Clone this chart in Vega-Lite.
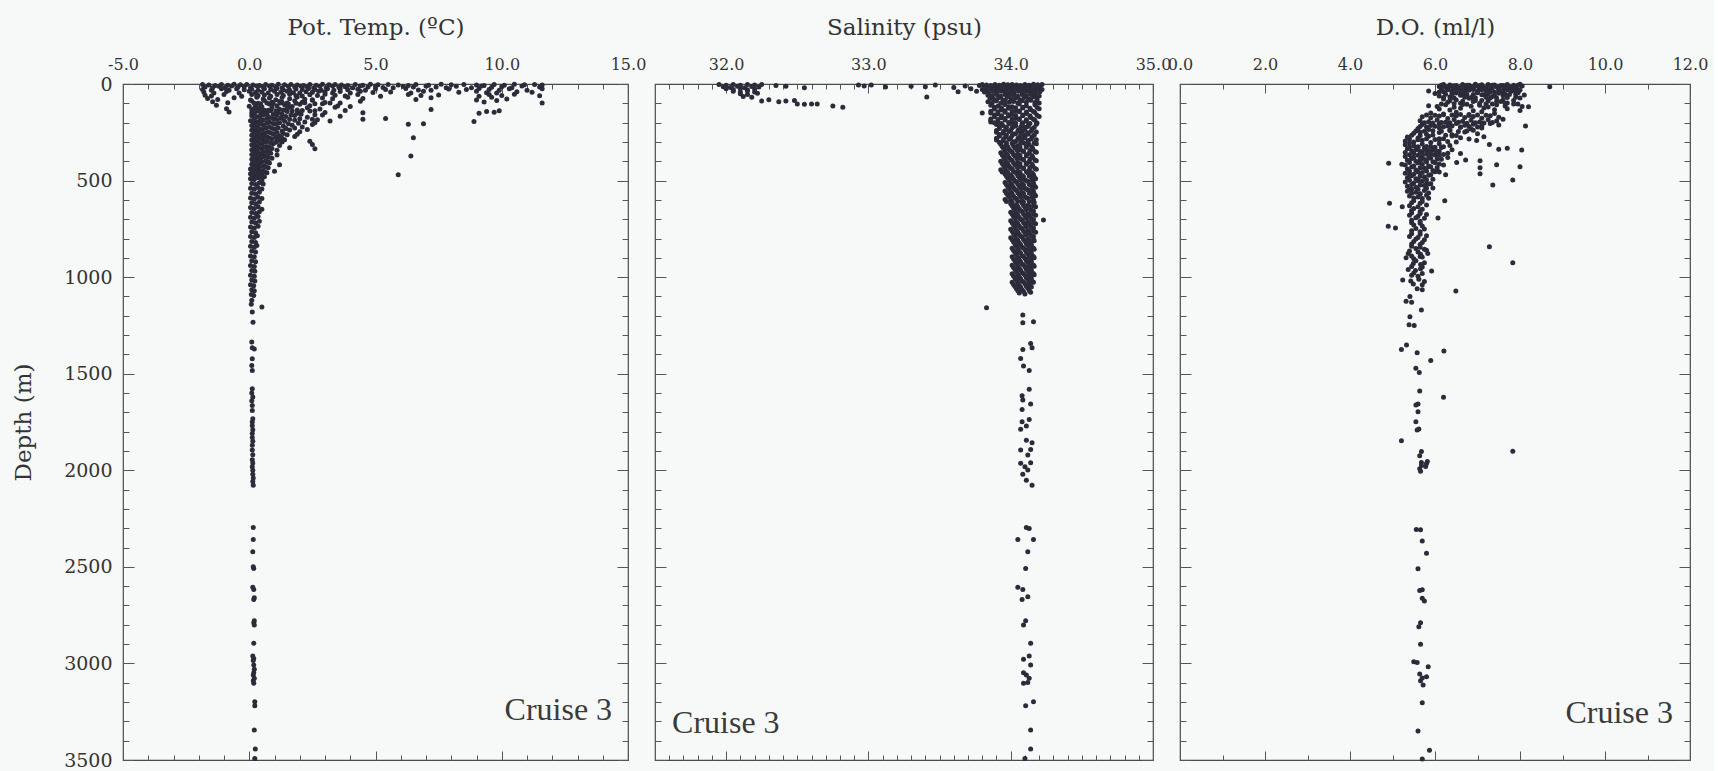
{
"$schema": "https://vega.github.io/schema/vega-lite/v6.json",
"background": "#f7f9f9",
"padding": {"left": 12, "top": 15, "right": 5, "bottom": 5},
"bounds": "flush",
"spacing": 27,
"resolve": {"scale": {"x": "independent", "y": "independent"}},
"config": {
  "view": {"stroke": "#4a4a4a", "strokeWidth": 1.2},
  "axis": {"domain": false, "grid": false, "tickColor": "#555", "tickWidth": 1, "labelFont": "DejaVu Serif", "titleFont": "DejaVu Serif", "labelColor": "#333", "titleColor": "#333", "titleFontWeight": "normal", "labelOverlap": false}
},
"datasets": {
"lab1": [{"v": 14.37, "z": 3293, "t": "Cruise 3"}],
"lab2": [{"v": 31.62, "z": 3361, "t": "Cruise 3"}],
"lab3": [{"v": 11.6, "z": 3309, "t": "Cruise 3"}],
"temp": [
{"z":2,"v":-1.85},{"z":5,"v":-1.6},{"z":8,"v":-1.35},{"z":3,"v":-1.1},{"z":6,"v":-0.85},{"z":1,"v":-0.6},{"z":4,"v":-0.35},{"z":2,"v":-0.1},{"z":5,"v":0.15},{"z":8,"v":0.4},{"z":3,"v":0.65},{"z":6,"v":0.9},{"z":1,"v":1.15},{"z":4,"v":1.4},{"z":2,"v":1.65},{"z":5,"v":1.9},{"z":8,"v":2.15},{"z":3,"v":2.4},{"z":6,"v":2.65},{"z":1,"v":2.9},{"z":4,"v":3.15},{"z":2,"v":3.4},{"z":5,"v":3.65},{"z":8,"v":3.9},{"z":3,"v":4.2},{"z":6,"v":4.5},{"z":1,"v":4.8},{"z":4,"v":5.1},{"z":2,"v":5.5},{"z":5,"v":5.9},{"z":8,"v":6.3},{"z":3,"v":6.6},{"z":6,"v":7.1},{"z":1,"v":7.6},{"z":4,"v":8.0},{"z":2,"v":8.5},{"z":5,"v":9.0},{"z":8,"v":9.3},{"z":3,"v":9.7},{"z":6,"v":10.1},{"z":1,"v":10.5},{"z":4,"v":10.9},{"z":2,"v":11.3},{"z":5,"v":11.6},
{"z":15,"v":-1.75},{"z":19,"v":-1.45},{"z":12,"v":-1.2},{"z":20,"v":-0.95},{"z":11,"v":-0.7},{"z":17,"v":-0.45},{"z":14,"v":-0.2},{"z":20,"v":0.05},{"z":11,"v":0.3},{"z":16,"v":0.55},{"z":10,"v":0.8},{"z":18,"v":1.05},{"z":19,"v":1.3},{"z":13,"v":1.55},{"z":16,"v":1.8},{"z":10,"v":2.05},{"z":15,"v":2.3},{"z":19,"v":2.55},{"z":12,"v":2.8},{"z":20,"v":3.05},{"z":11,"v":3.3},{"z":17,"v":3.55},{"z":14,"v":3.8},{"z":20,"v":4.1},{"z":11,"v":4.4},{"z":16,"v":4.7},{"z":10,"v":5.0},{"z":18,"v":5.3},{"z":19,"v":5.7},{"z":13,"v":6.1},{"z":16,"v":6.5},{"z":10,"v":7.0},{"z":15,"v":7.4},{"z":19,"v":7.8},{"z":12,"v":8.2},{"z":20,"v":8.8},{"z":11,"v":9.2},{"z":17,"v":9.6},{"z":14,"v":10.0},{"z":20,"v":10.4},{"z":11,"v":10.8},{"z":16,"v":11.5},
{"z":28,"v":-1.85},{"z":32,"v":-1.5},{"z":25,"v":-1.1},{"z":33,"v":-0.8},{"z":24,"v":-0.5},{"z":30,"v":-0.2},{"z":27,"v":0.1},{"z":33,"v":0.35},{"z":24,"v":0.6},{"z":29,"v":0.85},{"z":23,"v":1.1},{"z":31,"v":1.35},{"z":32,"v":1.6},{"z":26,"v":1.85},{"z":29,"v":2.1},{"z":23,"v":2.35},{"z":28,"v":2.6},{"z":32,"v":2.85},{"z":25,"v":3.1},{"z":33,"v":3.35},{"z":24,"v":3.6},{"z":30,"v":3.9},{"z":27,"v":4.3},{"z":33,"v":4.6},{"z":24,"v":5.0},{"z":29,"v":5.4},{"z":23,"v":6.2},{"z":31,"v":6.7},{"z":32,"v":7.2},{"z":26,"v":7.9},{"z":29,"v":8.6},{"z":23,"v":9.1},{"z":28,"v":9.5},{"z":32,"v":9.9},{"z":25,"v":10.3},{"z":33,"v":11.0},{"z":24,"v":11.6},
{"z":42,"v":-1.8},{"z":46,"v":-1.4},{"z":39,"v":-0.9},{"z":47,"v":-0.4},{"z":38,"v":0},{"z":44,"v":0.25},{"z":41,"v":0.5},{"z":47,"v":0.75},{"z":38,"v":1.0},{"z":43,"v":1.25},{"z":37,"v":1.5},{"z":45,"v":1.75},{"z":46,"v":2.0},{"z":40,"v":2.25},{"z":43,"v":2.5},{"z":37,"v":2.75},{"z":42,"v":3.0},{"z":46,"v":3.3},{"z":39,"v":3.6},{"z":47,"v":4.0},{"z":38,"v":4.4},{"z":44,"v":4.9},{"z":41,"v":5.6},{"z":47,"v":6.4},{"z":38,"v":6.9},{"z":43,"v":8.3},{"z":37,"v":9.0},{"z":45,"v":9.4},{"z":46,"v":9.8},{"z":40,"v":10.6},{"z":43,"v":11.2},
{"z":58,"v":-1.75},{"z":62,"v":-1.5},{"z":55,"v":-1.0},{"z":63,"v":-0.3},{"z":54,"v":0.1},{"z":60,"v":0.35},{"z":57,"v":0.6},{"z":63,"v":0.85},{"z":54,"v":1.1},{"z":59,"v":1.35},{"z":53,"v":1.6},{"z":61,"v":1.85},{"z":62,"v":2.1},{"z":56,"v":2.4},{"z":59,"v":2.7},{"z":53,"v":3.0},{"z":58,"v":3.4},{"z":62,"v":3.8},{"z":55,"v":4.3},{"z":63,"v":5.2},{"z":54,"v":6.3},{"z":60,"v":6.8},{"z":57,"v":7.5},{"z":63,"v":9.1},{"z":54,"v":9.5},{"z":59,"v":10.0},{"z":53,"v":10.5},{"z":61,"v":11.5},
{"z":75,"v":-1.65},{"z":80,"v":-1.25},{"z":71,"v":-0.6},{"z":83,"v":0.05},{"z":69,"v":0.3},{"z":78,"v":0.55},{"z":73,"v":0.8},{"z":82,"v":1.05},{"z":70,"v":1.3},{"z":77,"v":1.6},{"z":67,"v":1.9},{"z":79,"v":2.2},{"z":81,"v":2.5},{"z":72,"v":2.9},{"z":76,"v":3.3},{"z":68,"v":3.9},{"z":75,"v":4.5},{"z":80,"v":6.6},{"z":71,"v":7.2},{"z":83,"v":9.0},{"z":69,"v":9.6},{"z":78,"v":10.2},
{"z":92,"v":-1.45},{"z":97,"v":-0.85},{"z":88,"v":0.1},{"z":100,"v":0.35},{"z":86,"v":0.6},{"z":95,"v":0.9},{"z":90,"v":1.2},{"z":99,"v":1.5},{"z":87,"v":1.8},{"z":94,"v":2.1},{"z":84,"v":2.5},{"z":96,"v":3.0},{"z":98,"v":3.6},{"z":89,"v":4.4},{"z":93,"v":9.3},{"z":85,"v":9.8},{"z":98,"v":11.6},
{"z":110,"v":-1.3},{"z":115,"v":0.0},{"z":106,"v":0.25},{"z":118,"v":0.5},{"z":104,"v":0.8},{"z":113,"v":1.1},{"z":108,"v":1.4},{"z":117,"v":1.7},{"z":105,"v":2.0},{"z":112,"v":2.4},{"z":102,"v":2.9},{"z":114,"v":3.5},{"z":116,"v":4.0},
{"z":128,"v":-0.9},{"z":133,"v":0.1},{"z":124,"v":0.35},{"z":136,"v":0.6},{"z":122,"v":0.9},{"z":131,"v":1.2},{"z":126,"v":1.5},{"z":135,"v":1.9},{"z":123,"v":2.3},{"z":130,"v":2.8},{"z":120,"v":3.4},{"z":132,"v":7.2},
{"z":145,"v":-0.8},{"z":150,"v":0.1},{"z":141,"v":0.3},{"z":153,"v":0.55},{"z":139,"v":0.85},{"z":148,"v":1.15},{"z":143,"v":1.5},{"z":152,"v":1.9},{"z":140,"v":2.4},{"z":147,"v":3.0},{"z":137,"v":3.8},{"z":149,"v":4.5},{"z":151,"v":9.1},{"z":142,"v":9.4},{"z":146,"v":9.7},{"z":138,"v":9.9},
{"z":165,"v":0.1},{"z":170,"v":0.3},{"z":161,"v":0.55},{"z":173,"v":0.8},{"z":159,"v":1.1},{"z":168,"v":1.45},{"z":163,"v":1.8},{"z":172,"v":2.3},{"z":160,"v":2.9},{"z":167,"v":3.6},{"z":178,"v":5.4},
{"z":190,"v":0.05},{"z":195,"v":0.3},{"z":186,"v":0.55},{"z":198,"v":0.8},{"z":184,"v":1.1},{"z":193,"v":1.4},{"z":188,"v":1.8},{"z":197,"v":2.2},{"z":185,"v":2.7},{"z":192,"v":3.2},{"z":182,"v":4.5},{"z":194,"v":8.9},{"z":208,"v":6.3},{"z":206,"v":6.9},
{"z":215,"v":0.1},{"z":220,"v":0.3},{"z":211,"v":0.55},{"z":223,"v":0.8},{"z":209,"v":1.05},{"z":218,"v":1.35},{"z":213,"v":1.7},{"z":222,"v":2.1},{"z":210,"v":2.5},
{"z":240,"v":0.1},{"z":245,"v":0.3},{"z":236,"v":0.5},{"z":248,"v":0.75},{"z":234,"v":1.0},{"z":243,"v":1.3},{"z":238,"v":1.6},{"z":247,"v":2.0},{"z":235,"v":2.3},
{"z":265,"v":0.1},{"z":270,"v":0.3},{"z":261,"v":0.5},{"z":273,"v":0.7},{"z":259,"v":0.95},{"z":268,"v":1.2},{"z":263,"v":1.5},{"z":272,"v":1.8},{"z":278,"v":6.5},
{"z":290,"v":0.1},{"z":295,"v":0.3},{"z":286,"v":0.5},{"z":298,"v":0.7},{"z":284,"v":0.9},{"z":293,"v":1.15},{"z":288,"v":1.4},{"z":297,"v":2.4},
{"z":315,"v":0.1},{"z":320,"v":0.3},{"z":311,"v":0.5},{"z":323,"v":0.7},{"z":309,"v":0.95},{"z":318,"v":1.2},{"z":313,"v":2.5},{"z":335,"v":2.6},
{"z":340,"v":0.1},{"z":345,"v":0.3},{"z":336,"v":0.5},{"z":348,"v":0.7},{"z":334,"v":0.9},{"z":343,"v":1.1},
{"z":365,"v":0.1},{"z":370,"v":0.25},{"z":361,"v":0.45},{"z":373,"v":0.65},{"z":359,"v":0.85},{"z":368,"v":1.1},{"z":373,"v":6.4},
{"z":390,"v":0.1},{"z":395,"v":0.25},{"z":386,"v":0.45},{"z":398,"v":0.65},{"z":384,"v":0.9},
{"z":415,"v":0.1},{"z":420,"v":0.25},{"z":411,"v":0.4},{"z":423,"v":0.6},{"z":409,"v":0.8},{"z":418,"v":1.2},
{"z":440,"v":0.05},{"z":445,"v":0.2},{"z":436,"v":0.35},{"z":448,"v":0.55},{"z":434,"v":0.75},
{"z":465,"v":0.05},{"z":470,"v":0.2},{"z":461,"v":0.35},{"z":473,"v":0.5},{"z":459,"v":0.7},{"z":470,"v":5.9},
{"z":490,"v":0.05},{"z":495,"v":0.2},{"z":486,"v":0.35},{"z":498,"v":0.5},
{"z":125,"v":0.2},{"z":140,"v":0.45},{"z":155,"v":0.7},{"z":180,"v":0.95},{"z":205,"v":0.4},{"z":228,"v":0.65},{"z":252,"v":0.2},{"z":280,"v":0.45},{"z":305,"v":0.85},{"z":330,"v":0.2},{"z":355,"v":0.55},{"z":380,"v":0.35},{"z":402,"v":0.75},{"z":428,"v":0.3},{"z":455,"v":0.45},{"z":480,"v":0.6},{"z":452,"v":1.0},{"z":330,"v":1.6},{"z":260,"v":1.9},{"z":200,"v":2.6},{"z":150,"v":2.0},{"z":95,"v":1.3},{"z":60,"v":0.3},{"z":230,"v":1.45},{"z":280,"v":1.1},{"z":175,"v":1.25},{"z":120,"v":1.6},{"z":300,"v":1.3},{"z":355,"v":0.8},{"z":255,"v":0.6},
{"z":100,"v":0.2},{"z":102,"v":0.45},{"z":99,"v":0.7},{"z":101,"v":0.95},{"z":98,"v":1.25},{"z":103,"v":1.55},{"z":100,"v":1.85},{"z":97,"v":2.2},{"z":102,"v":2.6},{"z":99,"v":3.2},
{"z":137,"v":0.2},{"z":139,"v":0.45},{"z":136,"v":0.75},{"z":138,"v":1.05},{"z":135,"v":1.35},{"z":140,"v":1.7},{"z":137,"v":2.1},{"z":139,"v":2.6},
{"z":157,"v":0.2},{"z":159,"v":0.45},{"z":156,"v":0.7},{"z":158,"v":0.95},{"z":155,"v":1.3},{"z":160,"v":1.65},{"z":157,"v":2.05},{"z":159,"v":2.6},
{"z":180,"v":0.2},{"z":182,"v":0.45},{"z":179,"v":0.7},{"z":181,"v":1.0},{"z":178,"v":1.3},{"z":183,"v":1.6},{"z":180,"v":2.0},{"z":182,"v":2.5},
{"z":203,"v":0.2},{"z":205,"v":0.45},{"z":202,"v":0.7},{"z":204,"v":0.95},{"z":201,"v":1.2},{"z":206,"v":1.55},{"z":203,"v":1.95},
{"z":228,"v":0.2},{"z":230,"v":0.4},{"z":227,"v":0.65},{"z":229,"v":0.9},{"z":226,"v":1.15},{"z":231,"v":1.45},{"z":228,"v":1.8},
{"z":253,"v":0.2},{"z":255,"v":0.4},{"z":252,"v":0.6},{"z":254,"v":0.85},{"z":251,"v":1.1},{"z":256,"v":1.35},
{"z":278,"v":0.2},{"z":280,"v":0.4},{"z":277,"v":0.6},{"z":279,"v":0.8},{"z":276,"v":1.05},{"z":281,"v":1.3},
{"z":303,"v":0.2},{"z":305,"v":0.4},{"z":302,"v":0.6},{"z":304,"v":0.85},{"z":301,"v":1.05},
{"z":328,"v":0.2},{"z":330,"v":0.4},{"z":327,"v":0.6},{"z":329,"v":0.8},
{"z":353,"v":0.2},{"z":355,"v":0.35},{"z":352,"v":0.55},{"z":354,"v":0.75},
{"z":378,"v":0.2},{"z":380,"v":0.35},{"z":377,"v":0.55},{"z":379,"v":0.75},
{"z":403,"v":0.15},{"z":405,"v":0.35},{"z":402,"v":0.5},{"z":404,"v":0.7},
{"z":428,"v":0.15},{"z":430,"v":0.3},{"z":427,"v":0.45},{"z":429,"v":0.65},
{"z":453,"v":0.12},{"z":455,"v":0.28},{"z":452,"v":0.42},{"z":454,"v":0.6},
{"z":478,"v":0.12},{"z":480,"v":0.28},{"z":477,"v":0.42},
{"z":515,"v":0.1},{"z":520,"v":0.25},{"z":511,"v":0.4},{"z":518,"v":0.55},
{"z":540,"v":0.05},{"z":545,"v":0.2},{"z":536,"v":0.35},{"z":543,"v":0.5},
{"z":565,"v":0.1},{"z":570,"v":0.25},{"z":561,"v":0.4},
{"z":590,"v":0.05},{"z":595,"v":0.2},{"z":586,"v":0.35},{"z":593,"v":0.5},
{"z":615,"v":0.1},{"z":620,"v":0.25},{"z":611,"v":0.4},
{"z":640,"v":0.05},{"z":645,"v":0.2},{"z":636,"v":0.35},{"z":648,"v":0.5},
{"z":665,"v":0.1},{"z":670,"v":0.25},{"z":661,"v":0.4},
{"z":690,"v":0.05},{"z":695,"v":0.2},{"z":686,"v":0.35},
{"z":715,"v":0.1},{"z":720,"v":0.25},{"z":711,"v":0.4},
{"z":740,"v":0.05},{"z":745,"v":0.2},{"z":736,"v":0.35},
{"z":765,"v":0.1},{"z":770,"v":0.25},
{"z":790,"v":0.05},{"z":795,"v":0.2},{"z":786,"v":0.32},
{"z":815,"v":0.1},{"z":820,"v":0.25},
{"z":840,"v":0.05},{"z":845,"v":0.2},{"z":836,"v":0.3},
{"z":865,"v":0.1},{"z":870,"v":0.25},
{"z":890,"v":0.05},{"z":895,"v":0.2},
{"z":915,"v":0.1},{"z":920,"v":0.25},
{"z":940,"v":0.05},{"z":945,"v":0.2},
{"z":965,"v":0.1},{"z":970,"v":0.22},
{"z":990,"v":0.05},{"z":995,"v":0.2},
{"z":1015,"v":0.1},{"z":1020,"v":0.22},
{"z":1040,"v":0.05},{"z":1045,"v":0.18},
{"z":1065,"v":0.1},{"z":1070,"v":0.2},
{"z":1090,"v":0.08},{"z":1095,"v":0.18},
{"z":1120,"v":0.1},{"z":1140,"v":0.08},{"z":1155,"v":0.5},{"z":1181,"v":0.12},{"z":1233,"v":0.15},{"z":1336,"v":0.1},{"z":1365,"v":0.12},{"z":1372,"v":0.2},{"z":1422,"v":0.12},{"z":1457,"v":0.1},{"z":1483,"v":0.12},{"z":1578,"v":0.12},{"z":1600,"v":0.1},{"z":1620,"v":0.14},{"z":1640,"v":0.1},{"z":1664,"v":0.12},{"z":1690,"v":0.12},{"z":1733,"v":0.14},{"z":1750,"v":0.12},{"z":1770,"v":0.12},{"z":1790,"v":0.14},{"z":1810,"v":0.12},{"z":1830,"v":0.12},{"z":1850,"v":0.14},{"z":1870,"v":0.12},{"z":1895,"v":0.12},{"z":1920,"v":0.14},{"z":1945,"v":0.12},{"z":1962,"v":0.14},{"z":1982,"v":0.12},{"z":2000,"v":0.14},{"z":2020,"v":0.14},{"z":2040,"v":0.16},{"z":2058,"v":0.14},{"z":2077,"v":0.16},{"z":2296,"v":0.16},{"z":2358,"v":0.16},{"z":2422,"v":0.14},{"z":2500,"v":0.16},{"z":2508,"v":0.18},{"z":2606,"v":0.14},{"z":2617,"v":0.18},{"z":2660,"v":0.2},{"z":2669,"v":0.18},{"z":2779,"v":0.2},{"z":2790,"v":0.18},{"z":2801,"v":0.2},{"z":2896,"v":0.18},{"z":2962,"v":0.14},{"z":2975,"v":0.18},{"z":2985,"v":0.16},{"z":3008,"v":0.18},{"z":3030,"v":0.2},{"z":3048,"v":0.18},{"z":3060,"v":0.16},{"z":3077,"v":0.2},{"z":3090,"v":0.16},{"z":3103,"v":0.18},{"z":3198,"v":0.22},{"z":3219,"v":0.22},{"z":3345,"v":0.2},{"z":3443,"v":0.24},{"z":3492,"v":0.22}
],
"sal": [
{"z":2,"v":31.95},{"z":6,"v":32.0},{"z":3,"v":32.05},{"z":7,"v":32.1},{"z":2,"v":32.15},{"z":5,"v":32.2},{"z":3,"v":32.25},
{"z":14,"v":31.98},{"z":18,"v":32.03},{"z":12,"v":32.08},{"z":19,"v":32.13},{"z":13,"v":32.18},{"z":16,"v":32.23},
{"z":25,"v":32.0},{"z":29,"v":32.05},{"z":23,"v":32.1},{"z":30,"v":32.15},{"z":26,"v":32.2},
{"z":38,"v":32.05},{"z":42,"v":32.1},{"z":36,"v":32.15},{"z":41,"v":32.2},
{"z":50,"v":32.1},{"z":54,"v":32.15},{"z":48,"v":32.22},{"z":65,"v":32.12},{"z":68,"v":32.18},
{"z":88,"v":32.25},{"z":82,"v":32.3},{"z":92,"v":32.37},{"z":88,"v":32.42},{"z":85,"v":32.48},{"z":103,"v":32.5},{"z":105,"v":32.55},{"z":104,"v":32.6},{"z":104,"v":32.64},{"z":114,"v":32.75},{"z":121,"v":32.82},{"z":8,"v":32.35},{"z":12,"v":32.42},{"z":20,"v":32.55},{"z":5,"v":32.93},{"z":10,"v":32.97},{"z":5,"v":33.02},{"z":16,"v":33.12},{"z":12,"v":33.3},{"z":14,"v":33.4},{"z":67,"v":33.41},{"z":5,"v":33.47},{"z":18,"v":33.6},{"z":40,"v":33.63},{"z":10,"v":33.68},{"z":25,"v":33.72},{"z":38,"v":33.76},{"z":8,"v":33.78},{"z":150,"v":33.8},{"z":197,"v":33.86},
{"z":2,"v":33.8},{"z":5,"v":33.83},{"z":8,"v":33.86},{"z":3,"v":33.89},{"z":6,"v":33.92},{"z":1,"v":33.95},{"z":4,"v":33.98},{"z":2,"v":34.01},{"z":5,"v":34.04},{"z":8,"v":34.07},{"z":3,"v":34.1},{"z":6,"v":34.13},{"z":1,"v":34.16},{"z":4,"v":34.19},{"z":2,"v":34.22},
{"z":15,"v":33.815},{"z":19,"v":33.845},{"z":12,"v":33.875},{"z":20,"v":33.905},{"z":11,"v":33.935},{"z":17,"v":33.965},{"z":14,"v":33.995},{"z":20,"v":34.025},{"z":11,"v":34.055},{"z":16,"v":34.085},{"z":10,"v":34.115},{"z":18,"v":34.145},{"z":19,"v":34.175},{"z":13,"v":34.205},
{"z":28,"v":33.8},{"z":32,"v":33.83},{"z":25,"v":33.86},{"z":33,"v":33.89},{"z":24,"v":33.92},{"z":30,"v":33.95},{"z":27,"v":33.98},{"z":33,"v":34.01},{"z":24,"v":34.04},{"z":29,"v":34.07},{"z":23,"v":34.1},{"z":31,"v":34.13},{"z":32,"v":34.16},{"z":26,"v":34.19},{"z":29,"v":34.22},
{"z":42,"v":33.815},{"z":46,"v":33.845},{"z":39,"v":33.875},{"z":47,"v":33.905},{"z":38,"v":33.935},{"z":44,"v":33.965},{"z":41,"v":33.995},{"z":47,"v":34.025},{"z":38,"v":34.055},{"z":43,"v":34.085},{"z":37,"v":34.115},{"z":45,"v":34.145},{"z":46,"v":34.175},{"z":40,"v":34.205},
{"z":58,"v":33.84},{"z":62,"v":33.87},{"z":55,"v":33.9},{"z":63,"v":33.93},{"z":54,"v":33.96},{"z":60,"v":33.99},{"z":57,"v":34.02},{"z":63,"v":34.05},{"z":54,"v":34.08},{"z":59,"v":34.11},{"z":53,"v":34.14},{"z":61,"v":34.17},{"z":62,"v":34.2},
{"z":75,"v":33.855},{"z":80,"v":33.885},{"z":71,"v":33.915},{"z":83,"v":33.945},{"z":69,"v":33.975},{"z":78,"v":34.005},{"z":73,"v":34.035},{"z":82,"v":34.065},{"z":70,"v":34.095},{"z":77,"v":34.125},{"z":67,"v":34.155},{"z":79,"v":34.185},
{"z":92,"v":33.84},{"z":97,"v":33.87},{"z":88,"v":33.9},{"z":100,"v":33.93},{"z":86,"v":33.96},{"z":95,"v":33.99},{"z":90,"v":34.02},{"z":99,"v":34.05},{"z":87,"v":34.08},{"z":94,"v":34.11},{"z":84,"v":34.14},{"z":96,"v":34.17},{"z":98,"v":34.2},
{"z":110,"v":33.86},{"z":115,"v":33.91},{"z":106,"v":33.96},{"z":118,"v":34.01},{"z":104,"v":34.06},{"z":113,"v":34.11},{"z":108,"v":34.17},
{"z":130,"v":33.885},{"z":135,"v":33.935},{"z":126,"v":33.985},{"z":138,"v":34.035},{"z":124,"v":34.085},{"z":133,"v":34.14},{"z":128,"v":34.2},
{"z":150,"v":33.86},{"z":155,"v":33.91},{"z":146,"v":33.96},{"z":158,"v":34.01},{"z":144,"v":34.06},{"z":153,"v":34.11},{"z":148,"v":34.17},
{"z":170,"v":33.885},{"z":175,"v":33.935},{"z":166,"v":33.985},{"z":178,"v":34.035},{"z":164,"v":34.085},{"z":173,"v":34.14},{"z":168,"v":34.2},
{"z":190,"v":33.86},{"z":195,"v":33.91},{"z":186,"v":33.96},{"z":198,"v":34.01},{"z":184,"v":34.06},{"z":193,"v":34.11},{"z":188,"v":34.17},
{"z":210,"v":33.9},{"z":215,"v":33.945},{"z":206,"v":33.99},{"z":218,"v":34.035},{"z":204,"v":34.08},{"z":213,"v":34.125},{"z":208,"v":34.18},
{"z":230,"v":33.92},{"z":235,"v":33.965},{"z":226,"v":34.01},{"z":238,"v":34.055},{"z":224,"v":34.1},{"z":233,"v":34.15},
{"z":250,"v":33.9},{"z":255,"v":33.945},{"z":246,"v":33.99},{"z":258,"v":34.035},{"z":244,"v":34.08},{"z":253,"v":34.125},{"z":248,"v":34.18},
{"z":270,"v":33.92},{"z":275,"v":33.965},{"z":266,"v":34.01},{"z":278,"v":34.055},{"z":264,"v":34.1},{"z":273,"v":34.15},
{"z":290,"v":33.9},{"z":295,"v":33.945},{"z":286,"v":33.99},{"z":298,"v":34.035},{"z":284,"v":34.08},{"z":293,"v":34.125},{"z":288,"v":34.18},
{"z":312,"v":33.93},{"z":317,"v":33.97},{"z":308,"v":34.01},{"z":320,"v":34.05},{"z":306,"v":34.09},{"z":315,"v":34.13},{"z":310,"v":34.18},
{"z":334,"v":33.95},{"z":339,"v":33.99},{"z":330,"v":34.03},{"z":342,"v":34.07},{"z":328,"v":34.11},{"z":337,"v":34.155},
{"z":356,"v":33.93},{"z":361,"v":33.97},{"z":352,"v":34.01},{"z":364,"v":34.05},{"z":350,"v":34.09},{"z":359,"v":34.13},{"z":354,"v":34.18},
{"z":378,"v":33.95},{"z":383,"v":33.99},{"z":374,"v":34.03},{"z":386,"v":34.07},{"z":372,"v":34.11},{"z":381,"v":34.155},
{"z":400,"v":33.93},{"z":405,"v":33.97},{"z":396,"v":34.01},{"z":408,"v":34.05},{"z":394,"v":34.09},{"z":403,"v":34.13},{"z":398,"v":34.18},
{"z":422,"v":33.95},{"z":427,"v":33.99},{"z":418,"v":34.03},{"z":430,"v":34.07},{"z":416,"v":34.11},{"z":425,"v":34.155},
{"z":444,"v":33.93},{"z":449,"v":33.97},{"z":440,"v":34.01},{"z":452,"v":34.05},{"z":438,"v":34.09},{"z":447,"v":34.13},{"z":442,"v":34.18},
{"z":466,"v":33.96},{"z":471,"v":34.0},{"z":462,"v":34.04},{"z":474,"v":34.08},{"z":460,"v":34.12},{"z":469,"v":34.16},
{"z":488,"v":33.98},{"z":493,"v":34.02},{"z":484,"v":34.06},{"z":496,"v":34.1},{"z":482,"v":34.145},{"z":491,"v":34.175},
{"z":510,"v":33.96},{"z":515,"v":34.0},{"z":506,"v":34.04},{"z":518,"v":34.08},{"z":504,"v":34.12},{"z":513,"v":34.16},
{"z":532,"v":33.98},{"z":537,"v":34.02},{"z":528,"v":34.06},{"z":540,"v":34.1},{"z":526,"v":34.145},{"z":535,"v":34.175},
{"z":554,"v":33.96},{"z":559,"v":34.0},{"z":550,"v":34.04},{"z":562,"v":34.08},{"z":548,"v":34.12},{"z":557,"v":34.16},
{"z":576,"v":33.98},{"z":581,"v":34.02},{"z":572,"v":34.06},{"z":584,"v":34.1},{"z":570,"v":34.145},{"z":579,"v":34.175},
{"z":598,"v":33.96},{"z":603,"v":34.0},{"z":594,"v":34.04},{"z":606,"v":34.08},{"z":592,"v":34.12},{"z":601,"v":34.16},
{"z":620,"v":34.0},{"z":625,"v":34.04},{"z":616,"v":34.08},{"z":628,"v":34.12},{"z":614,"v":34.16},
{"z":642,"v":34.02},{"z":647,"v":34.06},{"z":638,"v":34.1},{"z":650,"v":34.14},{"z":636,"v":34.175},
{"z":664,"v":34.0},{"z":669,"v":34.04},{"z":660,"v":34.08},{"z":672,"v":34.12},{"z":658,"v":34.16},
{"z":686,"v":34.02},{"z":691,"v":34.06},{"z":682,"v":34.1},{"z":694,"v":34.14},{"z":680,"v":34.175},
{"z":704,"v":34.23},
{"z":708,"v":34.0},{"z":713,"v":34.04},{"z":704,"v":34.08},{"z":716,"v":34.12},{"z":702,"v":34.16},
{"z":730,"v":34.02},{"z":735,"v":34.06},{"z":726,"v":34.1},{"z":738,"v":34.14},{"z":724,"v":34.175},
{"z":752,"v":34.0},{"z":757,"v":34.04},{"z":748,"v":34.08},{"z":760,"v":34.12},{"z":746,"v":34.16},
{"z":774,"v":34.02},{"z":779,"v":34.06},{"z":770,"v":34.1},{"z":782,"v":34.14},{"z":768,"v":34.175},
{"z":796,"v":34.0},{"z":801,"v":34.04},{"z":792,"v":34.08},{"z":804,"v":34.12},{"z":790,"v":34.16},
{"z":818,"v":34.02},{"z":823,"v":34.06},{"z":814,"v":34.1},{"z":826,"v":34.14},{"z":812,"v":34.165},
{"z":840,"v":34.04},{"z":845,"v":34.08},{"z":836,"v":34.12},{"z":848,"v":34.155},
{"z":862,"v":34.02},{"z":867,"v":34.06},{"z":858,"v":34.1},{"z":870,"v":34.14},{"z":856,"v":34.165},
{"z":884,"v":34.04},{"z":889,"v":34.08},{"z":880,"v":34.12},{"z":892,"v":34.155},
{"z":906,"v":34.02},{"z":911,"v":34.06},{"z":902,"v":34.1},{"z":914,"v":34.14},{"z":900,"v":34.165},
{"z":928,"v":34.04},{"z":933,"v":34.08},{"z":924,"v":34.12},{"z":936,"v":34.155},
{"z":950,"v":34.02},{"z":955,"v":34.06},{"z":946,"v":34.1},{"z":958,"v":34.14},{"z":944,"v":34.165},
{"z":972,"v":34.04},{"z":977,"v":34.08},{"z":968,"v":34.12},{"z":980,"v":34.155},
{"z":994,"v":34.02},{"z":999,"v":34.06},{"z":990,"v":34.1},{"z":1002,"v":34.14},{"z":988,"v":34.165},
{"z":1016,"v":34.04},{"z":1021,"v":34.08},{"z":1012,"v":34.12},{"z":1024,"v":34.155},
{"z":1038,"v":34.02},{"z":1043,"v":34.06},{"z":1034,"v":34.1},{"z":1046,"v":34.14},
{"z":1060,"v":34.04},{"z":1065,"v":34.08},{"z":1056,"v":34.12},
{"z":1082,"v":34.06},{"z":1087,"v":34.1},{"z":1078,"v":34.14},
{"z":121,"v":33.885},{"z":124,"v":33.935},{"z":119,"v":33.985},{"z":123,"v":34.035},{"z":120,"v":34.085},{"z":125,"v":34.135},{"z":122,"v":34.185},
{"z":141,"v":33.86},{"z":144,"v":33.91},{"z":139,"v":33.96},{"z":143,"v":34.01},{"z":140,"v":34.06},{"z":145,"v":34.11},{"z":142,"v":34.16},
{"z":161,"v":33.885},{"z":164,"v":33.935},{"z":159,"v":33.985},{"z":163,"v":34.035},{"z":160,"v":34.085},{"z":165,"v":34.135},{"z":162,"v":34.185},
{"z":181,"v":33.86},{"z":184,"v":33.91},{"z":179,"v":33.96},{"z":183,"v":34.01},{"z":180,"v":34.06},{"z":185,"v":34.11},{"z":182,"v":34.16},
{"z":201,"v":33.885},{"z":204,"v":33.935},{"z":199,"v":33.985},{"z":203,"v":34.035},{"z":200,"v":34.085},{"z":205,"v":34.135},{"z":202,"v":34.185},
{"z":221,"v":33.92},{"z":224,"v":33.97},{"z":219,"v":34.02},{"z":223,"v":34.07},{"z":220,"v":34.12},{"z":225,"v":34.165},
{"z":241,"v":33.9},{"z":244,"v":33.95},{"z":239,"v":34.0},{"z":243,"v":34.05},{"z":240,"v":34.1},{"z":245,"v":34.145},
{"z":261,"v":33.92},{"z":264,"v":33.97},{"z":259,"v":34.02},{"z":263,"v":34.07},{"z":260,"v":34.12},{"z":265,"v":34.165},
{"z":281,"v":33.9},{"z":284,"v":33.95},{"z":279,"v":34.0},{"z":283,"v":34.05},{"z":280,"v":34.1},{"z":285,"v":34.145},
{"z":301,"v":33.92},{"z":304,"v":33.97},{"z":299,"v":34.02},{"z":303,"v":34.07},{"z":300,"v":34.12},{"z":305,"v":34.165},
{"z":323,"v":33.94},{"z":326,"v":33.98},{"z":321,"v":34.02},{"z":325,"v":34.065},{"z":322,"v":34.11},{"z":327,"v":34.15},
{"z":345,"v":33.96},{"z":348,"v":34.0},{"z":343,"v":34.045},{"z":347,"v":34.09},{"z":344,"v":34.135},{"z":349,"v":34.17},
{"z":367,"v":33.94},{"z":370,"v":33.98},{"z":365,"v":34.02},{"z":369,"v":34.065},{"z":366,"v":34.11},{"z":371,"v":34.15},
{"z":389,"v":33.96},{"z":392,"v":34.0},{"z":387,"v":34.045},{"z":391,"v":34.09},{"z":388,"v":34.135},{"z":393,"v":34.17},
{"z":411,"v":33.94},{"z":414,"v":33.98},{"z":409,"v":34.02},{"z":413,"v":34.065},{"z":410,"v":34.11},{"z":415,"v":34.15},
{"z":433,"v":33.96},{"z":436,"v":34.0},{"z":431,"v":34.045},{"z":435,"v":34.09},{"z":432,"v":34.135},{"z":437,"v":34.17},
{"z":455,"v":33.94},{"z":458,"v":33.98},{"z":453,"v":34.02},{"z":457,"v":34.065},{"z":454,"v":34.11},{"z":459,"v":34.15},
{"z":477,"v":33.97},{"z":480,"v":34.01},{"z":475,"v":34.05},{"z":479,"v":34.09},{"z":476,"v":34.13},{"z":481,"v":34.165},
{"z":499,"v":33.99},{"z":502,"v":34.03},{"z":497,"v":34.07},{"z":501,"v":34.11},{"z":498,"v":34.15},
{"z":521,"v":33.97},{"z":524,"v":34.01},{"z":519,"v":34.05},{"z":523,"v":34.09},{"z":520,"v":34.13},{"z":525,"v":34.165},
{"z":543,"v":33.99},{"z":546,"v":34.03},{"z":541,"v":34.07},{"z":545,"v":34.11},{"z":542,"v":34.15},
{"z":565,"v":33.97},{"z":568,"v":34.01},{"z":563,"v":34.05},{"z":567,"v":34.09},{"z":564,"v":34.13},{"z":569,"v":34.165},
{"z":587,"v":33.99},{"z":590,"v":34.03},{"z":585,"v":34.07},{"z":589,"v":34.11},{"z":586,"v":34.15},
{"z":609,"v":33.97},{"z":612,"v":34.01},{"z":607,"v":34.05},{"z":611,"v":34.09},{"z":608,"v":34.13},{"z":613,"v":34.165},
{"z":631,"v":34.01},{"z":634,"v":34.05},{"z":629,"v":34.09},{"z":633,"v":34.13},{"z":630,"v":34.16},
{"z":675,"v":34.01},{"z":678,"v":34.05},{"z":673,"v":34.09},{"z":677,"v":34.13},{"z":674,"v":34.16},
{"z":719,"v":34.01},{"z":722,"v":34.05},{"z":717,"v":34.09},{"z":721,"v":34.13},{"z":718,"v":34.16},
{"z":763,"v":34.01},{"z":766,"v":34.05},{"z":761,"v":34.09},{"z":765,"v":34.13},{"z":762,"v":34.16},
{"z":807,"v":34.01},{"z":810,"v":34.05},{"z":805,"v":34.09},{"z":809,"v":34.13},{"z":806,"v":34.16},
{"z":851,"v":34.01},{"z":854,"v":34.05},{"z":849,"v":34.09},{"z":853,"v":34.13},{"z":850,"v":34.16},
{"z":895,"v":34.01},{"z":898,"v":34.05},{"z":893,"v":34.09},{"z":897,"v":34.13},{"z":894,"v":34.16},
{"z":939,"v":34.01},{"z":942,"v":34.05},{"z":937,"v":34.09},{"z":941,"v":34.13},{"z":938,"v":34.16},
{"z":983,"v":34.01},{"z":986,"v":34.05},{"z":981,"v":34.09},{"z":985,"v":34.13},{"z":982,"v":34.16},
{"z":1027,"v":34.01},{"z":1030,"v":34.05},{"z":1025,"v":34.09},{"z":1029,"v":34.13},{"z":1026,"v":34.16},
{"z":1071,"v":34.05},{"z":1074,"v":34.09},{"z":1069,"v":34.13},
{"z":653,"v":34.03},{"z":656,"v":34.07},{"z":651,"v":34.11},{"z":655,"v":34.145},
{"z":697,"v":34.03},{"z":700,"v":34.07},{"z":695,"v":34.11},{"z":699,"v":34.145},
{"z":741,"v":34.03},{"z":744,"v":34.07},{"z":739,"v":34.11},{"z":743,"v":34.145},
{"z":785,"v":34.03},{"z":788,"v":34.07},{"z":783,"v":34.11},{"z":787,"v":34.145},
{"z":829,"v":34.03},{"z":832,"v":34.07},{"z":827,"v":34.11},{"z":831,"v":34.145},
{"z":873,"v":34.03},{"z":876,"v":34.07},{"z":871,"v":34.11},{"z":875,"v":34.145},
{"z":917,"v":34.03},{"z":920,"v":34.07},{"z":915,"v":34.11},{"z":919,"v":34.145},
{"z":961,"v":34.03},{"z":964,"v":34.07},{"z":959,"v":34.11},{"z":963,"v":34.145},
{"z":1005,"v":34.03},{"z":1008,"v":34.07},{"z":1003,"v":34.11},{"z":1007,"v":34.145},
{"z":1049,"v":34.03},{"z":1052,"v":34.07},{"z":1047,"v":34.11},{"z":1051,"v":34.145},
{"z":1158,"v":33.83},{"z":1196,"v":34.085},{"z":1231,"v":34.16},{"z":1236,"v":34.085},{"z":1343,"v":34.14},{"z":1365,"v":34.15},{"z":1374,"v":34.085},{"z":1421,"v":34.07},{"z":1460,"v":34.09},{"z":1484,"v":34.13},{"z":1581,"v":34.13},{"z":1614,"v":34.08},{"z":1636,"v":34.085},{"z":1657,"v":34.14},{"z":1685,"v":34.08},{"z":1737,"v":34.13},{"z":1749,"v":34.08},{"z":1771,"v":34.11},{"z":1788,"v":34.07},{"z":1844,"v":34.11},{"z":1857,"v":34.15},{"z":1895,"v":34.07},{"z":1892,"v":34.14},{"z":1921,"v":34.12},{"z":1964,"v":34.07},{"z":1961,"v":34.14},{"z":1982,"v":34.1},{"z":1999,"v":34.12},{"z":2020,"v":34.085},{"z":2051,"v":34.11},{"z":2077,"v":34.15},{"z":2296,"v":34.11},{"z":2301,"v":34.13},{"z":2358,"v":34.05},{"z":2358,"v":34.16},{"z":2422,"v":34.12},{"z":2508,"v":34.105},{"z":2606,"v":34.05},{"z":2617,"v":34.085},{"z":2669,"v":34.08},{"z":2655,"v":34.12},{"z":2779,"v":34.105},{"z":2801,"v":34.09},{"z":2896,"v":34.14},{"z":2962,"v":34.13},{"z":2979,"v":34.09},{"z":3008,"v":34.14},{"z":3048,"v":34.09},{"z":3060,"v":34.11},{"z":3077,"v":34.13},{"z":3103,"v":34.09},{"z":3099,"v":34.12},{"z":3198,"v":34.16},{"z":3219,"v":34.105},{"z":3345,"v":34.14},{"z":3443,"v":34.14},{"z":3492,"v":34.1}
],
"ox": [
{"z":2,"v":6.2},{"z":5,"v":6.35},{"z":8,"v":6.5},{"z":3,"v":6.65},{"z":6,"v":6.8},{"z":1,"v":6.95},{"z":4,"v":7.1},{"z":2,"v":7.25},{"z":5,"v":7.4},{"z":8,"v":7.55},{"z":3,"v":7.7},{"z":6,"v":7.85},{"z":1,"v":8.0},
{"z":13,"v":6.1},{"z":17,"v":6.25},{"z":10,"v":6.4},{"z":18,"v":6.55},{"z":9,"v":6.7},{"z":15,"v":6.85},{"z":12,"v":7.0},{"z":18,"v":7.15},{"z":9,"v":7.3},{"z":14,"v":7.45},{"z":8,"v":7.6},{"z":16,"v":7.75},{"z":17,"v":7.9},{"z":11,"v":8.05},{"z":14,"v":8.7},
{"z":24,"v":6.15},{"z":28,"v":6.3},{"z":21,"v":6.45},{"z":29,"v":6.6},{"z":20,"v":6.75},{"z":26,"v":6.9},{"z":23,"v":7.05},{"z":29,"v":7.2},{"z":20,"v":7.35},{"z":25,"v":7.5},{"z":19,"v":7.65},{"z":27,"v":7.8},{"z":28,"v":7.95},
{"z":36,"v":5.85},{"z":40,"v":6.2},{"z":33,"v":6.4},{"z":41,"v":6.6},{"z":32,"v":6.8},{"z":38,"v":7.0},{"z":35,"v":7.2},{"z":41,"v":7.4},{"z":32,"v":7.6},{"z":37,"v":7.8},{"z":31,"v":8.0},
{"z":49,"v":6.0},{"z":53,"v":6.25},{"z":46,"v":6.5},{"z":54,"v":6.75},{"z":45,"v":7.0},{"z":51,"v":7.25},{"z":48,"v":7.5},{"z":54,"v":7.75},{"z":45,"v":7.95},
{"z":62,"v":6.1},{"z":67,"v":6.35},{"z":58,"v":6.6},{"z":70,"v":6.85},{"z":56,"v":7.1},{"z":65,"v":7.35},{"z":60,"v":7.6},{"z":69,"v":7.9},{"z":57,"v":8.1},
{"z":78,"v":6.2},{"z":83,"v":6.5},{"z":74,"v":6.8},{"z":86,"v":7.1},{"z":72,"v":7.3},{"z":81,"v":7.6},
{"z":95,"v":6.3},{"z":100,"v":6.6},{"z":91,"v":6.9},{"z":103,"v":7.2},{"z":89,"v":7.45},{"z":98,"v":7.7},
{"z":112,"v":5.85},{"z":117,"v":6.05},{"z":108,"v":6.25},{"z":120,"v":6.45},{"z":106,"v":6.65},{"z":115,"v":6.85},{"z":110,"v":7.05},{"z":119,"v":7.25},{"z":107,"v":7.45},{"z":114,"v":7.65},{"z":104,"v":7.85},{"z":116,"v":8.05},{"z":118,"v":8.2},
{"z":130,"v":6.1},{"z":135,"v":6.35},{"z":126,"v":6.6},{"z":138,"v":6.9},{"z":124,"v":7.15},{"z":133,"v":7.4},{"z":128,"v":7.7},{"z":137,"v":8.0},
{"z":150,"v":5.9},{"z":155,"v":6.2},{"z":146,"v":6.5},{"z":158,"v":6.8},{"z":144,"v":7.1},{"z":153,"v":7.4},
{"z":170,"v":5.7},{"z":175,"v":5.9},{"z":166,"v":6.1},{"z":178,"v":6.3},{"z":164,"v":6.5},{"z":173,"v":6.7},{"z":168,"v":6.9},{"z":177,"v":7.1},{"z":165,"v":7.3},{"z":172,"v":7.5},
{"z":190,"v":5.65},{"z":195,"v":5.85},{"z":186,"v":6.05},{"z":198,"v":6.25},{"z":184,"v":6.45},{"z":193,"v":6.65},{"z":188,"v":6.85},{"z":197,"v":7.05},{"z":185,"v":7.25},{"z":192,"v":7.45},{"z":182,"v":7.6},
{"z":210,"v":5.7},{"z":215,"v":5.9},{"z":206,"v":6.1},{"z":218,"v":6.3},{"z":204,"v":6.5},{"z":213,"v":6.7},{"z":208,"v":6.9},{"z":217,"v":7.1},{"z":205,"v":7.3},{"z":212,"v":7.5},{"z":217,"v":8.13},
{"z":230,"v":5.6},{"z":235,"v":5.85},{"z":226,"v":6.1},{"z":238,"v":6.35},{"z":224,"v":6.6},{"z":233,"v":6.85},{"z":228,"v":7.1},
{"z":255,"v":5.5},{"z":260,"v":5.8},{"z":251,"v":6.1},{"z":263,"v":6.4},{"z":249,"v":6.7},{"z":258,"v":7.0},
{"z":275,"v":5.35},{"z":280,"v":5.6},{"z":271,"v":5.85},{"z":283,"v":6.1},{"z":269,"v":6.4},{"z":278,"v":6.6},{"z":273,"v":7.15},
{"z":295,"v":5.3},{"z":300,"v":5.5},{"z":291,"v":5.7},{"z":303,"v":5.9},{"z":289,"v":6.1},{"z":298,"v":6.3},{"z":293,"v":6.98},
{"z":315,"v":5.3},{"z":320,"v":5.5},{"z":311,"v":5.7},{"z":323,"v":5.9},{"z":309,"v":6.1},{"z":318,"v":6.35},{"z":313,"v":7.28},
{"z":335,"v":5.35},{"z":340,"v":5.55},{"z":331,"v":5.75},{"z":343,"v":5.95},{"z":329,"v":6.15},{"z":338,"v":7.5},{"z":333,"v":7.7},{"z":342,"v":8.04},
{"z":355,"v":5.3},{"z":360,"v":5.5},{"z":351,"v":5.7},{"z":363,"v":5.9},{"z":349,"v":6.1},{"z":358,"v":6.3},
{"z":375,"v":5.3},{"z":380,"v":5.5},{"z":371,"v":5.7},{"z":383,"v":5.9},{"z":369,"v":6.1},
{"z":395,"v":5.35},{"z":400,"v":5.55},{"z":391,"v":5.75},{"z":403,"v":5.95},{"z":389,"v":6.15},{"z":398,"v":7.06},{"z":393,"v":6.72},
{"z":410,"v":4.91},{"z":415,"v":5.22},{"z":406,"v":6.51},{"z":418,"v":7.45},
{"z":420,"v":5.3},{"z":425,"v":5.5},{"z":416,"v":5.7},{"z":428,"v":5.9},{"z":414,"v":6.1},{"z":428,"v":8.0},
{"z":440,"v":5.35},{"z":445,"v":5.55},{"z":436,"v":5.75},{"z":448,"v":5.95},{"z":434,"v":7.06},
{"z":462,"v":5.3},{"z":467,"v":5.5},{"z":458,"v":5.7},{"z":470,"v":5.9},{"z":456,"v":6.1},{"z":465,"v":7.06},
{"z":485,"v":5.35},{"z":490,"v":5.55},{"z":481,"v":5.75},{"z":493,"v":5.95},{"z":497,"v":7.83},
{"z":508,"v":5.3},{"z":513,"v":5.5},{"z":504,"v":5.7},{"z":516,"v":5.9},{"z":523,"v":7.36},
{"z":530,"v":5.35},{"z":535,"v":5.55},{"z":526,"v":5.75},{"z":538,"v":5.95},
{"z":555,"v":5.35},{"z":560,"v":5.55},{"z":551,"v":5.75},
{"z":580,"v":5.4},{"z":585,"v":5.6},{"z":576,"v":5.8},
{"z":305,"v":5.4},{"z":325,"v":5.6},{"z":345,"v":5.8},{"z":365,"v":6.0},{"z":385,"v":5.45},{"z":405,"v":5.65},{"z":425,"v":5.85},{"z":445,"v":6.05},{"z":470,"v":5.4},{"z":495,"v":5.6},{"z":518,"v":5.8},{"z":545,"v":5.45},{"z":568,"v":5.65},{"z":592,"v":5.85},{"z":420,"v":6.2},{"z":380,"v":6.3},{"z":340,"v":6.4},{"z":300,"v":6.5},{"z":470,"v":6.25},{"z":250,"v":5.65},{"z":265,"v":6.25},{"z":240,"v":6.9},{"z":285,"v":6.8},{"z":360,"v":6.6},
{"z":7,"v":6.15},{"z":9,"v":6.45},{"z":6,"v":6.75},{"z":8,"v":7.05},{"z":7,"v":7.35},{"z":10,"v":7.65},{"z":6,"v":7.95},
{"z":18,"v":6.3},{"z":20,"v":6.6},{"z":17,"v":6.9},{"z":19,"v":7.2},{"z":21,"v":7.5},{"z":18,"v":7.8},
{"z":30,"v":6.3},{"z":28,"v":6.5},{"z":31,"v":6.7},{"z":29,"v":6.9},{"z":30,"v":7.1},{"z":27,"v":7.3},{"z":32,"v":7.5},{"z":30,"v":7.7},{"z":28,"v":7.9},
{"z":42,"v":6.1},{"z":44,"v":6.4},{"z":41,"v":6.7},{"z":43,"v":7.0},{"z":40,"v":7.3},{"z":45,"v":7.6},{"z":42,"v":7.9},
{"z":55,"v":6.4},{"z":57,"v":6.65},{"z":54,"v":6.9},{"z":56,"v":7.15},{"z":58,"v":7.4},{"z":53,"v":7.65},{"z":55,"v":7.9},
{"z":70,"v":6.2},{"z":72,"v":6.45},{"z":69,"v":6.7},{"z":71,"v":6.95},{"z":68,"v":7.2},{"z":73,"v":7.45},{"z":70,"v":7.7},{"z":72,"v":8.0},
{"z":87,"v":6.35},{"z":89,"v":6.65},{"z":86,"v":6.95},{"z":88,"v":7.25},{"z":90,"v":7.55},{"z":85,"v":7.85},
{"z":104,"v":6.15},{"z":102,"v":6.45},{"z":105,"v":6.75},{"z":101,"v":7.05},{"z":103,"v":7.35},{"z":100,"v":7.65},{"z":104,"v":7.95},
{"z":160,"v":5.8},{"z":162,"v":6.0},{"z":159,"v":6.2},{"z":161,"v":6.4},{"z":158,"v":6.6},{"z":163,"v":6.8},{"z":160,"v":7.0},{"z":162,"v":7.2},
{"z":200,"v":5.75},{"z":202,"v":5.95},{"z":199,"v":6.15},{"z":201,"v":6.35},{"z":198,"v":6.55},{"z":203,"v":6.75},{"z":200,"v":6.95},{"z":202,"v":7.15},{"z":199,"v":7.35},
{"z":220,"v":5.65},{"z":222,"v":5.8},{"z":219,"v":6.0},{"z":221,"v":6.2},{"z":218,"v":6.4},{"z":223,"v":6.6},{"z":220,"v":6.8},{"z":222,"v":7.0},
{"z":243,"v":5.55},{"z":245,"v":5.75},{"z":242,"v":5.95},{"z":244,"v":6.15},{"z":241,"v":6.35},{"z":246,"v":6.55},{"z":243,"v":6.75},
{"z":265,"v":5.45},{"z":267,"v":5.65},{"z":264,"v":5.95},{"z":266,"v":6.5},
{"z":285,"v":5.4},{"z":288,"v":5.6},{"z":283,"v":5.8},{"z":287,"v":6.0},{"z":284,"v":6.2},
{"z":326,"v":5.4},{"z":329,"v":5.6},{"z":324,"v":5.8},{"z":328,"v":6.0},{"z":325,"v":6.2},
{"z":346,"v":5.45},{"z":349,"v":5.65},{"z":344,"v":5.85},{"z":348,"v":6.05},
{"z":366,"v":5.4},{"z":369,"v":5.6},{"z":364,"v":5.8},{"z":368,"v":6.0},{"z":365,"v":6.2},
{"z":386,"v":5.45},{"z":389,"v":5.65},{"z":384,"v":5.85},{"z":388,"v":6.05},
{"z":406,"v":5.4},{"z":409,"v":5.6},{"z":404,"v":5.8},{"z":408,"v":6.0},
{"z":430,"v":5.45},{"z":433,"v":5.65},{"z":428,"v":5.85},{"z":432,"v":6.05},
{"z":452,"v":5.4},{"z":455,"v":5.6},{"z":450,"v":5.8},{"z":454,"v":6.0},
{"z":475,"v":5.45},{"z":478,"v":5.65},{"z":473,"v":5.85},
{"z":498,"v":5.4},{"z":501,"v":5.6},{"z":496,"v":5.8},
{"z":520,"v":5.45},{"z":523,"v":5.65},{"z":518,"v":5.85},
{"z":542,"v":5.4},{"z":545,"v":5.6},{"z":540,"v":5.8},
{"z":566,"v":5.45},{"z":569,"v":5.65},{"z":564,"v":5.85},
{"z":590,"v":5.5},{"z":593,"v":5.7},{"z":615,"v":5.45},{"z":618,"v":5.65},{"z":645,"v":5.5},{"z":648,"v":5.7},{"z":668,"v":5.45},{"z":671,"v":5.65},{"z":692,"v":5.55},{"z":695,"v":5.75},{"z":718,"v":5.45},{"z":721,"v":5.65},{"z":748,"v":5.55},{"z":751,"v":5.75},{"z":775,"v":5.45},{"z":778,"v":5.65},{"z":803,"v":5.55},{"z":806,"v":5.75},{"z":828,"v":5.45},{"z":831,"v":5.65},{"z":852,"v":5.55},{"z":855,"v":5.75},{"z":890,"v":5.45},{"z":893,"v":5.65},{"z":915,"v":5.55},{"z":945,"v":5.45},{"z":948,"v":5.7},{"z":978,"v":5.5},{"z":981,"v":5.7},
{"z":604,"v":6.23},{"z":604,"v":5.5},{"z":608,"v":5.7},{"z":618,"v":4.93},
{"z":630,"v":5.4},{"z":635,"v":5.6},{"z":626,"v":5.8},{"z":635,"v":5.23},
{"z":655,"v":5.45},{"z":660,"v":5.65},
{"z":680,"v":5.4},{"z":685,"v":5.6},{"z":676,"v":5.8},{"z":694,"v":6.07},
{"z":705,"v":5.45},{"z":710,"v":5.65},
{"z":730,"v":5.5},{"z":735,"v":5.7},{"z":737,"v":4.9},{"z":745,"v":5.07},
{"z":760,"v":5.45},{"z":765,"v":5.65},
{"z":790,"v":5.4},{"z":795,"v":5.6},{"z":786,"v":5.8},
{"z":815,"v":5.5},{"z":820,"v":5.7},
{"z":840,"v":5.45},{"z":845,"v":5.65},{"z":842,"v":7.28},
{"z":865,"v":5.4},{"z":870,"v":5.6},{"z":861,"v":5.8},
{"z":877,"v":5.37},{"z":882,"v":5.66},{"z":877,"v":5.83},
{"z":900,"v":5.32},{"z":905,"v":5.5},{"z":896,"v":5.7},{"z":925,"v":7.83},
{"z":929,"v":5.49},{"z":934,"v":5.66},{"z":925,"v":5.75},
{"z":960,"v":5.37},{"z":965,"v":5.54},{"z":956,"v":5.66},{"z":968,"v":5.92},
{"z":990,"v":5.45},{"z":995,"v":5.6},
{"z":1015,"v":5.24},{"z":1020,"v":5.43},{"z":1011,"v":5.62},{"z":1023,"v":5.75},
{"z":1035,"v":5.49},{"z":1040,"v":5.7},
{"z":1060,"v":5.58},{"z":1065,"v":5.7},{"z":1072,"v":6.49},
{"z":1100,"v":5.41},{"z":1125,"v":5.32},{"z":1130,"v":5.45},{"z":1170,"v":5.68},
{"z":1205,"v":5.41},{"z":1247,"v":5.39},{"z":1250,"v":5.51},{"z":1351,"v":5.33},{"z":1374,"v":5.21},{"z":1383,"v":6.21},{"z":1391,"v":5.58},{"z":1431,"v":5.9},{"z":1472,"v":5.55},{"z":1494,"v":5.63},{"z":1590,"v":5.64},{"z":1622,"v":6.2},{"z":1657,"v":5.6},{"z":1662,"v":5.55},{"z":1697,"v":5.6},{"z":1749,"v":5.55},{"z":1786,"v":5.62},{"z":1792,"v":5.58},{"z":1847,"v":5.21},{"z":1902,"v":7.83},{"z":1903,"v":5.68},{"z":1925,"v":5.64},{"z":1955,"v":5.82},{"z":1960,"v":5.68},{"z":1965,"v":5.8},{"z":1975,"v":5.68},{"z":1980,"v":5.78},{"z":1992,"v":5.64},{"z":2005,"v":5.66},{"z":2306,"v":5.56},{"z":2308,"v":5.66},{"z":2366,"v":5.7},{"z":2430,"v":5.8},{"z":2510,"v":5.6},{"z":2618,"v":5.7},{"z":2622,"v":5.64},{"z":2663,"v":5.7},{"z":2677,"v":5.75},{"z":2789,"v":5.66},{"z":2810,"v":5.62},{"z":2901,"v":5.66},{"z":2991,"v":5.5},{"z":2995,"v":5.58},{"z":3017,"v":5.84},{"z":3055,"v":5.64},{"z":3069,"v":5.8},{"z":3075,"v":5.7},{"z":3090,"v":5.66},{"z":3112,"v":5.72},{"z":3203,"v":5.7},{"z":3350,"v":5.6},{"z":3449,"v":5.87},{"z":3495,"v":5.7}
]
},
"hconcat": [
{
 "width": 505, "height": 676,
 "resolve": {"axis": {"x": "independent", "y": "independent"}},
 "layer": [
  {"data": {"name": "temp"}, "mark": {"type": "circle", "size": 25, "color": "#2b2b3a", "opacity": 1},
   "encoding": {
    "x": {"field": "v", "type": "quantitative", "scale": {"domain": [-5, 15], "nice": false, "zero": false},
      "axis": {"orient": "top", "values": [-5, 0, 5, 10, 15], "labelExpr": "datum.value < 0 ? '-' + format(-datum.value, '.1f') : format(datum.value, '.1f')", "tickSize": -9, "labelPadding": 21, "labelFontSize": 16, "labelFlush": false, "title": "Pot. Temp. (ºC)", "titleFontSize": 23, "titlePadding": 17}},
    "y": {"field": "z", "type": "quantitative", "scale": {"domain": [0, 3500], "reverse": true, "nice": false, "zero": false},
      "axis": {"orient": "left", "values": [0, 500, 1000, 1500, 2000, 2500, 3000, 3500], "format": "d", "tickSize": -11, "labelPadding": 22, "labelFontSize": 19, "title": "Depth (m)", "titleFontSize": 23, "titlePadding": 28}}
   }},
  {"data": {"name": "lab1"}, "mark": {"type": "text", "font": "Liberation Serif", "fontSize": 32, "align": "right", "baseline": "alphabetic", "color": "#3a3a3a"},
   "encoding": {
    "x": {"field": "v", "type": "quantitative", "scale": {"domain": [-5, 15], "nice": false, "zero": false},
      "axis": {"orient": "top", "values": [-4, -3, -2, -1, 1, 2, 3, 4, 6, 7, 8, 9, 11, 12, 13, 14], "labels": false, "tickSize": -5, "title": null}},
    "y": {"field": "z", "type": "quantitative", "scale": {"domain": [0, 3500], "reverse": true, "nice": false, "zero": false},
      "axis": {"orient": "left", "values": [100, 200, 300, 400, 600, 700, 800, 900, 1100, 1200, 1300, 1400, 1600, 1700, 1800, 1900, 2100, 2200, 2300, 2400, 2600, 2700, 2800, 2900, 3100, 3200, 3300, 3400], "labels": false, "tickSize": -6, "title": null}},
    "text": {"field": "t"}
   }},
  {"data": {"name": "lab1"}, "mark": {"type": "point", "opacity": 0},
   "encoding": {
    "x": {"field": "v", "type": "quantitative", "scale": {"domain": [-5, 15], "nice": false, "zero": false},
      "axis": {"orient": "bottom", "values": [-5, 0, 5, 10, 15], "labels": false, "tickSize": -9, "title": null}},
    "y": {"field": "z", "type": "quantitative", "scale": {"domain": [0, 3500], "reverse": true, "nice": false, "zero": false},
      "axis": {"orient": "right", "values": [0, 500, 1000, 1500, 2000, 2500, 3000, 3500], "labels": false, "tickSize": -11, "title": null}}
   }},
  {"data": {"name": "lab1"}, "mark": {"type": "point", "opacity": 0},
   "encoding": {
    "x": {"field": "v", "type": "quantitative", "scale": {"domain": [-5, 15], "nice": false, "zero": false},
      "axis": {"orient": "bottom", "values": [-4, -3, -2, -1, 1, 2, 3, 4, 6, 7, 8, 9, 11, 12, 13, 14], "labels": false, "tickSize": -5, "title": null}},
    "y": {"field": "z", "type": "quantitative", "scale": {"domain": [0, 3500], "reverse": true, "nice": false, "zero": false},
      "axis": {"orient": "right", "values": [100, 200, 300, 400, 600, 700, 800, 900, 1100, 1200, 1300, 1400, 1600, 1700, 1800, 1900, 2100, 2200, 2300, 2400, 2600, 2700, 2800, 2900, 3100, 3200, 3300, 3400], "labels": false, "tickSize": -6, "title": null}}
   }}
 ]
},
{
 "width": 498, "height": 676,
 "resolve": {"axis": {"x": "independent", "y": "independent"}},
 "layer": [
  {"data": {"name": "sal"}, "mark": {"type": "circle", "size": 25, "color": "#2b2b3a", "opacity": 1},
   "encoding": {
    "x": {"field": "v", "type": "quantitative", "scale": {"domain": [31.5, 35], "nice": false, "zero": false},
      "axis": {"orient": "top", "values": [32, 33, 34, 35], "format": ".1f", "tickSize": -9, "labelPadding": 21, "labelFontSize": 16, "labelFlush": false, "title": "Salinity (psu)", "titleFontSize": 23, "titlePadding": 17}},
    "y": {"field": "z", "type": "quantitative", "scale": {"domain": [0, 3500], "reverse": true, "nice": false, "zero": false},
      "axis": {"orient": "left", "values": [0, 500, 1000, 1500, 2000, 2500, 3000, 3500], "labels": false, "tickSize": -11, "title": null}}
   }},
  {"data": {"name": "lab2"}, "mark": {"type": "text", "font": "Liberation Serif", "fontSize": 32, "align": "left", "baseline": "alphabetic", "color": "#3a3a3a"},
   "encoding": {
    "x": {"field": "v", "type": "quantitative", "scale": {"domain": [31.5, 35], "nice": false, "zero": false},
      "axis": {"orient": "top", "values": [31.6, 31.7, 31.8, 31.9, 32.1, 32.2, 32.3, 32.4, 32.5, 32.6, 32.7, 32.8, 32.9, 33.1, 33.2, 33.3, 33.4, 33.5, 33.6, 33.7, 33.8, 33.9, 34.1, 34.2, 34.3, 34.4, 34.5, 34.6, 34.7, 34.8, 34.9], "labels": false, "tickSize": -5, "title": null}},
    "y": {"field": "z", "type": "quantitative", "scale": {"domain": [0, 3500], "reverse": true, "nice": false, "zero": false},
      "axis": {"orient": "left", "values": [100, 200, 300, 400, 600, 700, 800, 900, 1100, 1200, 1300, 1400, 1600, 1700, 1800, 1900, 2100, 2200, 2300, 2400, 2600, 2700, 2800, 2900, 3100, 3200, 3300, 3400], "labels": false, "tickSize": -6, "title": null}},
    "text": {"field": "t"}
   }},
  {"data": {"name": "lab2"}, "mark": {"type": "point", "opacity": 0},
   "encoding": {
    "x": {"field": "v", "type": "quantitative", "scale": {"domain": [31.5, 35], "nice": false, "zero": false},
      "axis": {"orient": "bottom", "values": [32, 33, 34], "labels": false, "tickSize": -9, "title": null}},
    "y": {"field": "z", "type": "quantitative", "scale": {"domain": [0, 3500], "reverse": true, "nice": false, "zero": false},
      "axis": {"orient": "right", "values": [0, 500, 1000, 1500, 2000, 2500, 3000, 3500], "labels": false, "tickSize": -11, "title": null}}
   }},
  {"data": {"name": "lab2"}, "mark": {"type": "point", "opacity": 0},
   "encoding": {
    "x": {"field": "v", "type": "quantitative", "scale": {"domain": [31.5, 35], "nice": false, "zero": false},
      "axis": {"orient": "bottom", "values": [31.6, 31.7, 31.8, 31.9, 32.1, 32.2, 32.3, 32.4, 32.5, 32.6, 32.7, 32.8, 32.9, 33.1, 33.2, 33.3, 33.4, 33.5, 33.6, 33.7, 33.8, 33.9, 34.1, 34.2, 34.3, 34.4, 34.5, 34.6, 34.7, 34.8, 34.9], "labels": false, "tickSize": -5, "title": null}},
    "y": {"field": "z", "type": "quantitative", "scale": {"domain": [0, 3500], "reverse": true, "nice": false, "zero": false},
      "axis": {"orient": "right", "values": [100, 200, 300, 400, 600, 700, 800, 900, 1100, 1200, 1300, 1400, 1600, 1700, 1800, 1900, 2100, 2200, 2300, 2400, 2600, 2700, 2800, 2900, 3100, 3200, 3300, 3400], "labels": false, "tickSize": -6, "title": null}}
   }}
 ]
},
{
 "width": 510, "height": 676,
 "resolve": {"axis": {"x": "independent", "y": "independent"}},
 "layer": [
  {"data": {"name": "ox"}, "mark": {"type": "circle", "size": 25, "color": "#2b2b3a", "opacity": 1},
   "encoding": {
    "x": {"field": "v", "type": "quantitative", "scale": {"domain": [0, 12], "nice": false, "zero": false},
      "axis": {"orient": "top", "values": [0, 2, 4, 6, 8, 10, 12], "format": ".1f", "tickSize": -9, "labelPadding": 21, "labelFontSize": 16, "labelFlush": false, "title": "D.O. (ml/l)", "titleFontSize": 23, "titlePadding": 17}},
    "y": {"field": "z", "type": "quantitative", "scale": {"domain": [0, 3500], "reverse": true, "nice": false, "zero": false},
      "axis": {"orient": "left", "values": [0, 500, 1000, 1500, 2000, 2500, 3000, 3500], "labels": false, "tickSize": -11, "title": null}}
   }},
  {"data": {"name": "lab3"}, "mark": {"type": "text", "font": "Liberation Serif", "fontSize": 32, "align": "right", "baseline": "alphabetic", "color": "#3a3a3a"},
   "encoding": {
    "x": {"field": "v", "type": "quantitative", "scale": {"domain": [0, 12], "nice": false, "zero": false},
      "axis": {"orient": "top", "values": [1, 3, 5, 7, 9, 11], "labels": false, "tickSize": -5, "title": null}},
    "y": {"field": "z", "type": "quantitative", "scale": {"domain": [0, 3500], "reverse": true, "nice": false, "zero": false},
      "axis": {"orient": "left", "values": [100, 200, 300, 400, 600, 700, 800, 900, 1100, 1200, 1300, 1400, 1600, 1700, 1800, 1900, 2100, 2200, 2300, 2400, 2600, 2700, 2800, 2900, 3100, 3200, 3300, 3400], "labels": false, "tickSize": -6, "title": null}},
    "text": {"field": "t"}
   }},
  {"data": {"name": "lab3"}, "mark": {"type": "point", "opacity": 0},
   "encoding": {
    "x": {"field": "v", "type": "quantitative", "scale": {"domain": [0, 12], "nice": false, "zero": false},
      "axis": {"orient": "bottom", "values": [0, 2, 4, 6, 8, 10, 12], "labels": false, "tickSize": -9, "title": null}},
    "y": {"field": "z", "type": "quantitative", "scale": {"domain": [0, 3500], "reverse": true, "nice": false, "zero": false},
      "axis": {"orient": "right", "values": [0, 500, 1000, 1500, 2000, 2500, 3000, 3500], "labels": false, "tickSize": -11, "title": null}}
   }},
  {"data": {"name": "lab3"}, "mark": {"type": "point", "opacity": 0},
   "encoding": {
    "x": {"field": "v", "type": "quantitative", "scale": {"domain": [0, 12], "nice": false, "zero": false},
      "axis": {"orient": "bottom", "values": [1, 3, 5, 7, 9, 11], "labels": false, "tickSize": -5, "title": null}},
    "y": {"field": "z", "type": "quantitative", "scale": {"domain": [0, 3500], "reverse": true, "nice": false, "zero": false},
      "axis": {"orient": "right", "values": [100, 200, 300, 400, 600, 700, 800, 900, 1100, 1200, 1300, 1400, 1600, 1700, 1800, 1900, 2100, 2200, 2300, 2400, 2600, 2700, 2800, 2900, 3100, 3200, 3300, 3400], "labels": false, "tickSize": -6, "title": null}}
   }}
 ]
}
]
}
